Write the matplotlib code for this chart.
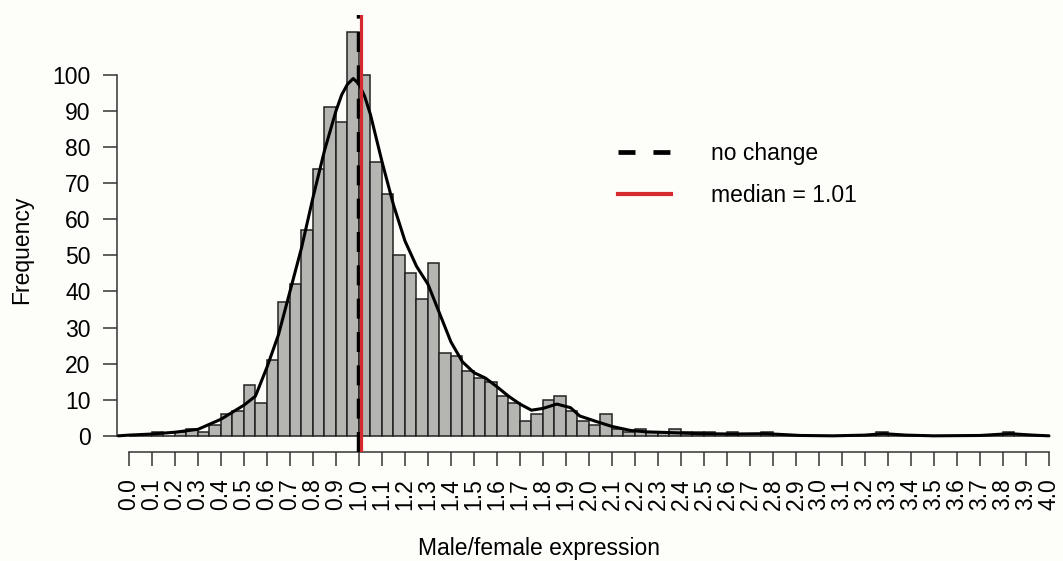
import numpy as np
from matplotlib import pyplot as plt
from matplotlib.lines import Line2D

# histogram: bins of width 0.05 starting at 0.00
bin_width = 0.05
bin_left = np.round(np.arange(0, 4.0, bin_width), 2)
counts = [
    0, 0, 1, 0, 1, 2, 1, 3, 6, 7,
    14, 9, 21, 37, 42, 57, 74, 91, 87, 112,
    100, 76, 67, 50, 45, 38, 48, 23, 22, 18,
    16, 15, 11, 9, 4, 6, 10, 11, 7, 4,
    3, 6, 2, 1, 2, 1, 1, 2, 1, 1,
    1, 0, 1, 0, 0, 1, 0, 0, 0, 0,
    0, 0, 0, 0, 0, 1, 0, 0, 0, 0,
    0, 0, 0, 0, 0, 0, 1, 0, 0, 0,
]

# density curve (scaled to counts)
curve_x = [-0.046, 0.0, 0.1, 0.2, 0.3, 0.4, 0.5, 0.55, 0.6, 0.65, 0.7, 0.75,
           0.8, 0.85, 0.9, 0.925, 0.95, 0.975, 1.0, 1.025, 1.05, 1.1, 1.15,
           1.2, 1.25, 1.3, 1.35, 1.4, 1.45, 1.5, 1.55, 1.6, 1.65, 1.7, 1.75,
           1.8, 1.86, 1.92, 1.96, 2.03, 2.1, 2.18, 2.25, 2.35, 2.48, 2.63,
           2.77, 2.92, 3.06, 3.2, 3.28, 3.38, 3.5, 3.7, 3.83, 3.93, 4.0]
curve_y = [0, 0.2, 0.5, 1.0, 1.8, 4.6, 8.5, 11, 19, 28, 40, 52,
           66, 79, 90, 94.5, 97.4, 99, 97.5, 94, 89, 76, 64,
           54, 47, 42, 34, 26, 20.5, 17.5, 16, 13.6, 11, 8.8, 7.1,
           7.6, 8.8, 7.8, 5.5, 4.0, 2.6, 1.5, 1.1, 0.9, 0.6, 0.5,
           0.6, 0.1, 0, 0.2, 0.6, 0.2, 0, 0.1, 0.6, 0.2, 0]

no_change = 1.0
median = 1.01

x_ticks = np.round(np.arange(0, 4.01, 0.1), 1)
x_labels = [f"{v:.1f}" for v in x_ticks]
y_ticks = list(range(0, 101, 10))

plt.rcParams["font.family"] = ["Liberation Sans", "DejaVu Sans"]
plt.rcParams["font.size"] = 16

bg = "#fdfdf9"
fig = plt.figure(figsize=(10.63, 5.61), dpi=100, facecolor=bg)
ax = fig.add_axes([117 / 1063, 109 / 561, 946 / 1063, 436.6 / 561])
ax.set_facecolor(bg)

ax.bar(bin_left, counts, width=bin_width, align="edge", color="#b5b6b1",
       edgecolor="#222222", linewidth=1.1, zorder=2)
ax.plot(curve_x, curve_y, color="black", linewidth=2.2,
        solid_joinstyle="round", solid_capstyle="round", zorder=3)
ax.axvline(no_change, color="black", linewidth=3.2, dashes=(4.5, 3.0),
           zorder=4)
ax.axvline(median, color="#d42a30", linewidth=2.3, zorder=5)

ax.set_xlim(-0.052, 4.061)
ax.set_ylim(-4.48, 116.48)

for side in ("top", "right"):
    ax.spines[side].set_visible(False)
ax.spines["left"].set_bounds(0, 100)
ax.spines["bottom"].set_bounds(0, 4)
for side in ("left", "bottom"):
    ax.spines[side].set_color("#333333")
    ax.spines[side].set_linewidth(1.1)

ax.set_xticks(x_ticks)
ax.set_xticklabels(x_labels, rotation=90)
ax.set_yticks(y_ticks)
ax.tick_params(axis="both", length=10, width=1.1, color="#333333", pad=9,
               labelsize=16.5)

fig.text(539 / 1063, 1 - 549 / 561, "Male/female expression", ha="center",
         va="center", fontsize=16.5)
fig.text(22 / 1063, 1 - 250 / 561, "Frequency", ha="center", va="center",
         rotation=90, fontsize=16.5)

handles = [
    Line2D([], [], color="black", linewidth=3.4, dashes=(3.6, 3.8)),
    Line2D([], [], color="#d42a30", linewidth=3.0),
]
ax.legend(handles, ["no change", "median = 1.01"], loc="center left",
          bbox_to_anchor=(618 / 1063, 1 - 174.5 / 561),
          bbox_transform=fig.transFigure, frameon=False, borderpad=0,
          borderaxespad=0, handlelength=2.3, handletextpad=1.75,
          labelspacing=0.8, fontsize=16.5)

fig.savefig("out.png", dpi=100, facecolor=bg)
